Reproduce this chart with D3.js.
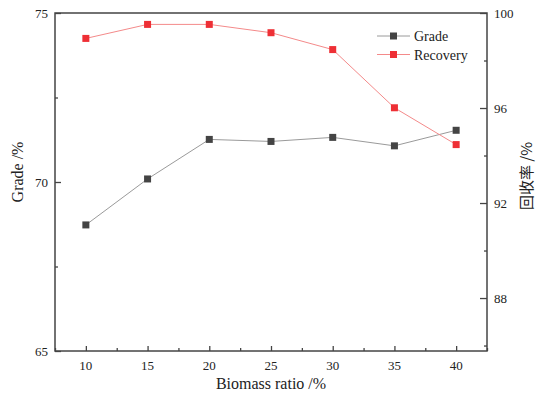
<!DOCTYPE html>
<html>
<head>
    <meta charset="utf-8">
    <script src="https://d3js.org/d3.v7.min.js"></script>
    <style>
        body { margin: 0; background: #fff; }
    </style>
</head>
<body>
    <div id="chart"></div>
    <script>
        // biomass ratio on x, grade on left axis, recovery on right axis
        var ratios = [10, 15, 20, 25, 30, 35, 40];
        var grade = [68.73, 70.09, 71.26, 71.2, 71.32, 71.07, 71.53];
        var recovery = [98.93, 99.52, 99.52, 99.17, 98.46, 96.01, 94.46];
        var seriesNames = ["Grade", "Recovery"];

        var width = 543, height = 396;
        var margin = { top: 13, right: 56, bottom: 45, left: 55 };
        var serif = "'Liberation Serif', 'Times New Roman', Times, serif";

        var svg = d3.select("#chart").append("svg")
            .attr("width", width)
            .attr("height", height)
            .style("font-family", serif);

        var x = d3.scaleLinear().domain([7.5, 42.5])
            .range([margin.left, width - margin.right]);
        var yL = d3.scaleLinear().domain([65, 75])
            .range([height - margin.bottom, margin.top]);
        var yR = d3.scaleLinear().domain([85.77, 100])
            .range([height - margin.bottom, margin.top]);

        var axisColor = "#444";

        // frame
        svg.append("rect")
            .attr("x", margin.left).attr("y", margin.top)
            .attr("width", x.range()[1] - x.range()[0])
            .attr("height", yL.range()[0] - yL.range()[1])
            .attr("fill", "none").attr("stroke", axisColor).attr("stroke-width", 1.5);

        function styleAxis(g) {
            g.select(".domain").remove();
            g.attr("font-family", serif);
            g.selectAll("line").attr("stroke", axisColor).attr("stroke-width", 1.3);
            g.selectAll("text").style("font-size", "13px").style("font-family", serif).attr("fill", "#222");
        }

        // x axis: major ticks inward, minor between
        var gx = svg.append("g").attr("transform", "translate(0," + yL.range()[0] + ")");
        gx.call(d3.axisBottom(x).tickValues(d3.range(7.5, 42.6, 2.5)).tickSize(0).tickFormat(""));
        gx.selectAll(".tick line").remove();
        gx.selectAll(".tick").append("line")
            .attr("y1", 0).attr("y2", function (d) { return (d % 5 === 0) ? -5 : -3; });
        gx.append("g").selectAll("text").data(ratios).enter().append("text")
            .attr("x", d => x(d)).attr("y", 18.5).attr("text-anchor", "middle").text(d => d);
        styleAxis(gx);

        // left axis
        var gl = svg.append("g").attr("transform", "translate(" + margin.left + ",0)");
        gl.call(d3.axisLeft(yL).tickValues([65, 67.5, 70, 72.5, 75]).tickSize(0).tickFormat(""));
        gl.selectAll(".tick line").remove();
        gl.selectAll(".tick").append("line")
            .attr("x1", 0).attr("x2", function (d) { return (d % 5 === 0) ? 6 : 3; });
        gl.append("g").selectAll("text").data([65, 70, 75]).enter().append("text")
            .attr("x", -7).attr("y", d => yL(d) + 4.5).attr("text-anchor", "end").text(d => d);
        styleAxis(gl);

        // right axis
        var gr = svg.append("g").attr("transform", "translate(" + (width - margin.right) + ",0)");
        gr.call(d3.axisRight(yR).tickValues([86, 88, 90, 92, 94, 96, 98, 100]).tickSize(0).tickFormat(""));
        gr.selectAll(".tick line").remove();
        gr.selectAll(".tick").append("line")
            .attr("x1", 0).attr("x2", function (d) { return (d % 4 === 0) ? -7 : -3; });
        gr.append("g").selectAll("text").data([88, 92, 96, 100]).enter().append("text")
            .attr("x", 7).attr("y", d => yR(d) + 4.5).attr("text-anchor", "start").text(d => d);
        styleAxis(gr);

        // axis titles
        svg.append("text")
            .attr("x", (x.range()[0] + x.range()[1]) / 2).attr("y", 389)
            .attr("text-anchor", "middle").style("font-size", "16px").attr("fill", "#222")
            .text("Biomass ratio /%");
        svg.append("text")
            .attr("transform", "translate(23,172) rotate(-90)")
            .attr("text-anchor", "middle").style("font-size", "16px").attr("fill", "#222")
            .text("Grade /%");
        svg.append("text")
            .attr("transform", "translate(532,176) rotate(-90)")
            .attr("text-anchor", "middle").style("font-size", "15px").attr("fill", "#222")
            .style("font-family", "'Noto Sans CJK SC', " + serif)
            .text("回收率 /%");

        // series
        var colors = { line: ["#9a9a9a", "#f48a8a"], mark: ["#444", "#ee2f35"] };
        var lineL = d3.line().x((d, i) => x(ratios[i])).y(d => yL(d));
        var lineR = d3.line().x((d, i) => x(ratios[i])).y(d => yR(d));

        function drawSeries(vals, line, scale, k) {
            svg.append("path").datum(vals)
                .attr("d", line).attr("fill", "none")
                .attr("stroke", colors.line[k]).attr("stroke-width", 1);
            svg.append("g").selectAll("rect").data(vals).enter().append("rect")
                .attr("x", (d, i) => x(ratios[i]) - 3.5)
                .attr("y", d => scale(d) - 3.5)
                .attr("width", 7).attr("height", 7)
                .attr("fill", colors.mark[k]);
        }
        drawSeries(grade, lineL, yL, 0);
        drawSeries(recovery, lineR, yR, 1);

        // legend
        var legend = svg.append("g");
        seriesNames.forEach(function (name, k) {
            var ly = 36 + k * 18.5;
            legend.append("line").attr("x1", 377).attr("x2", 410).attr("y1", ly).attr("y2", ly)
                .attr("stroke", colors.line[k]).attr("stroke-width", 1);
            legend.append("rect").attr("x", 390).attr("y", ly - 3.5).attr("width", 7).attr("height", 7)
                .attr("fill", colors.mark[k]);
            legend.append("text").attr("x", 414).attr("y", ly + 5)
                .style("font-size", "14px").attr("fill", "#222").text(name);
        });
    </script>
</body>
</html>
